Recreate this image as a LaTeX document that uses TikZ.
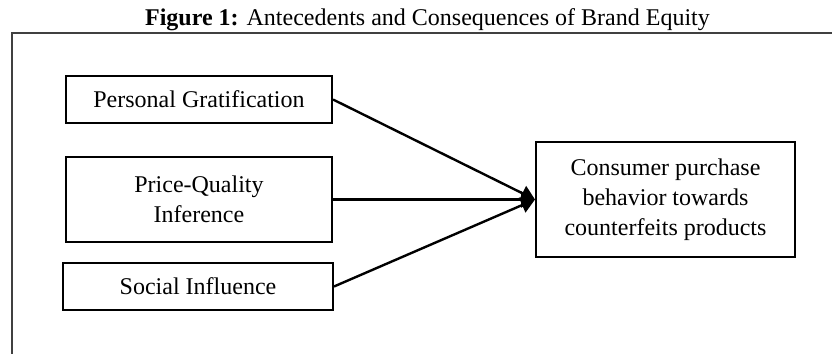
\documentclass[tikz,border=0pt]{standalone}
\usepackage{fontspec}
\setmainfont{Liberation Serif}
\usetikzlibrary{arrows.meta}
\begin{document}
\begin{tikzpicture}[x=1pt,y=-1pt,
  box/.style={draw, line width=2pt, align=center, inner sep=0pt,
    font=\fontsize{24}{30}\selectfont},
  arr/.style={line width=2.4pt, -{Triangle[length=14pt,width=16pt]}},
  frame/.style={draw=black!75, line width=1.2pt}]
\useasboundingbox (0,0) rectangle (832,354);
\node[anchor=base, font=\fontsize{24}{30}\selectfont] (title) at (427.5,25)
  {\textbf{Figure 1:} Antecedents and Consequences of Brand Equity};
\coordinate (ftr) at (832,33);
\coordinate (ftl) at (12,33);
\coordinate (fbl) at (12,354);
\draw[frame] (ftr) -- (ftl) -- (fbl);
\node[box, minimum width=266pt, minimum height=47pt] (pg) at (199,99.5) {Personal Gratification};
\node[box, minimum width=266pt, minimum height=85pt] (pq) at (199,199.5) {Price-Quality\\Inference};
\node[box, minimum width=270pt, minimum height=47pt] (si) at (198,286.5) {Social Influence};
\node[box, minimum width=259pt, minimum height=115pt] (cp) at (665.5,199.5) {Consumer purchase\\behavior towards\\counterfeits products};
\draw[arr] (pg.east) -- (cp.west);
\draw[arr] (pq.east) -- (cp.west);
\draw[arr] (si.east) -- (cp.west);
\end{tikzpicture}
\end{document}
